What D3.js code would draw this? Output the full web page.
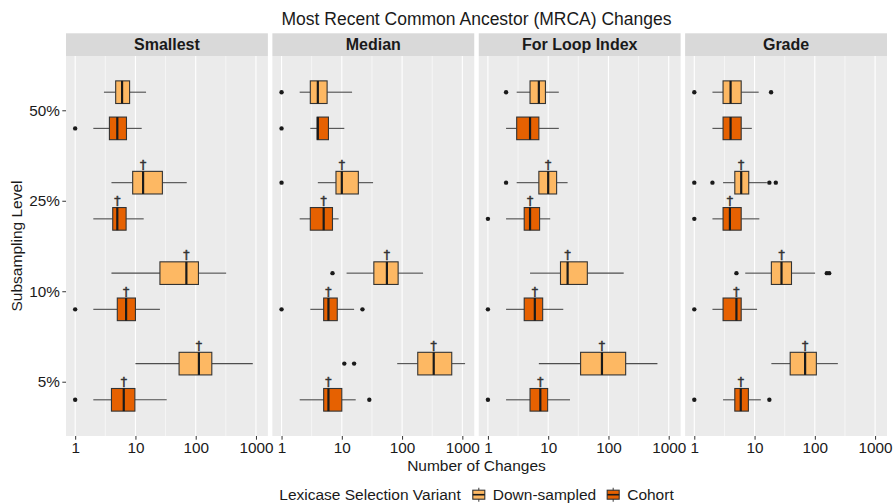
<!DOCTYPE html>
<html>
<head>
<meta charset="utf-8">
<script src="https://cdn.jsdelivr.net/npm/d3@7"></script>
<style>
    body { margin: 0; background: #fff }
    svg { font-family: 'Liberation Sans', Arial, sans-serif }
</style>
</head>
<body>
<svg id="chart" width="893" height="503"></svg>
<script>

const title = 'Most Recent Common Ancestor (MRCA) Changes'
const panels = ['Smallest', 'Median', 'For Loop Index', 'Grade']
const levels = ['50%', '25%', '10%', '5%']
const variants = ['Down-sampled', 'Cohort']
const fills = ['#FDB863', '#E66101']
const xTicks = [1, 10, 100, 1000]

// levels that carry a significance dagger
const daggerLevels = ['25%', '10%', '5%']

// [level, variant, lower whisker, q1, median, q3, upper whisker, outliers]
const smallest = [
    ['50%', 'Down-sampled', 3, 4.7, 6, 8, 15, []],
    ['50%', 'Cohort', 2, 3.7, 5, 7.1, 12.7, [1]],
    ['25%', 'Down-sampled', 4, 9, 13.4, 28, 71, []],
    ['25%', 'Cohort', 2, 4.2, 5, 7, 13.7, []],
    ['10%', 'Down-sampled', 4, 25.5, 70, 111, 320, []],
    ['10%', 'Cohort', 2, 5, 7, 10, 25.5, [1]],
    ['5%', 'Down-sampled', 10, 53, 113, 185, 885, []],
    ['5%', 'Cohort', 2, 4, 6.4, 9.8, 33, [1]]
]

const median = [
    ['50%', 'Down-sampled', 2, 3, 4, 5.7, 14.8, [1]],
    ['50%', 'Cohort', 3, 3.9, 4, 6, 11, [1]],
    ['25%', 'Down-sampled', 4, 8, 10, 18.8, 33, [1]],
    ['25%', 'Cohort', 2, 3, 5, 7, 8.85, []],
    ['10%', 'Down-sampled', 12, 34, 56, 86, 223, [7]],
    ['10%', 'Cohort', 3, 5, 6, 8.4, 16, [1, 22]],
    ['5%', 'Down-sampled', 83, 182, 335, 667, 1110, [11, 16]],
    ['5%', 'Cohort', 2, 5, 6, 10, 17, [28.6]]
]

const forLoop = [
    ['50%', 'Down-sampled', 3, 5, 7, 9, 15, [2]],
    ['50%', 'Cohort', 2, 3, 5, 7, 15, []],
    ['25%', 'Down-sampled', 3, 7, 10, 13.8, 21, [2]],
    ['25%', 'Cohort', 2, 4, 5, 7.2, 10.8, [1]],
    ['10%', 'Down-sampled', 5, 16, 21, 44.6, 179, []],
    ['10%', 'Cohort', 2, 4, 6, 8.1, 17.8, [1]],
    ['5%', 'Down-sampled', 7, 34.5, 78, 193, 650, []],
    ['5%', 'Cohort', 2, 5, 7.4, 9.8, 23, [1]]
]

const grade = [
    ['50%', 'Down-sampled', 2, 3, 4, 6, 11.7, [1, 18.8]],
    ['50%', 'Cohort', 2, 3, 4, 6, 9, []],
    ['25%', 'Down-sampled', 3, 4.7, 6, 8, 16, [1, 2, 17.6, 22.5]],
    ['25%', 'Cohort', 2, 3, 3.9, 6, 12, [1]],
    ['10%', 'Down-sampled', 7, 19, 28, 41, 101, [5, 158, 173]],
    ['10%', 'Cohort', 2, 3, 5, 6, 11, [1]],
    ['5%', 'Down-sampled', 19, 39, 69, 106, 241, []],
    ['5%', 'Cohort', 3, 4.7, 5.9, 7.9, 12.7, [1, 17.6]]
]

const panelStats = [smallest, median, forLoop, grade]


const plot = {left: 66, right: 887, top: 56, bottom: 436, gap: 4.5, strip: 22.7}
const panelW = (plot.right - plot.left - plot.gap * (panels.length - 1)) / panels.length

const toBox = r => ({
    level: r[0], variant: r[1],
    lo: r[2], q1: r[3], med: r[4], q3: r[5], hi: r[6], out: r[7]
})

// shared log x scale, expanded 5% like ggplot
const allVals = panelStats.flat().flatMap(r => [r[2], r[6], ...r[7]])
const [vMin, vMax] = d3.extent(allVals).map(Math.log10)
const pad = (vMax - vMin) * 0.05
const x = d3.scaleLog()
    .domain([10 ** (vMin - pad), 10 ** (vMax + pad)])
    .range([0, panelW])

const y = d3.scalePoint()
    .domain(levels)
    .range([plot.top, plot.bottom])
    .padding(0.6)

const step = y.step()
const dodge = v => (variants.indexOf(v) === 0 ? -1 : 1) * step * 0.2
const boxH = step * 0.25

const minorTicks = [-1, 0, 1, 2, 3].map(k => 10 ** (k + 0.5))
    .filter(v => v > x.domain()[0] && v < x.domain()[1])


const svg = d3.select('#chart')

svg.append('text')
    .attr('x', (plot.left + plot.right) / 2)
    .attr('y', 25)
    .attr('text-anchor', 'middle')
    .style('font-size', '17.5px')
    .style('fill', '#1a1a1a')
    .text(title)


const drawPanel = (g, name, rows) => {
    g.append('rect')
        .attr('y', plot.top - plot.strip)
        .attr('width', panelW)
        .attr('height', plot.strip)
        .attr('fill', '#D9D9D9')

    g.append('text')
        .attr('x', panelW / 2)
        .attr('y', plot.top - 6)
        .attr('text-anchor', 'middle')
        .style('font-size', '16px')
        .style('font-weight', 'bold')
        .style('fill', '#1a1a1a')
        .text(name)

    g.append('rect')
        .attr('y', plot.top)
        .attr('width', panelW)
        .attr('height', plot.bottom - plot.top)
        .attr('fill', '#EBEBEB')

    g.selectAll('.minor')
        .data(minorTicks)
        .join('line')
        .attr('x1', x).attr('x2', x)
        .attr('y1', plot.top).attr('y2', plot.bottom)
        .attr('stroke', '#fff')
        .attr('stroke-width', 0.55)

    g.selectAll('.major')
        .data(xTicks)
        .join('line')
        .attr('x1', x).attr('x2', x)
        .attr('y1', plot.top).attr('y2', plot.bottom)
        .attr('stroke', '#fff')
        .attr('stroke-width', 1.1)

    const boxes = rows.map(toBox)
    const bg = g.selectAll('.box')
        .data(boxes)
        .join('g')
        .attr('transform', d => `translate(0,${y(d.level) + dodge(d.variant)})`)

    bg.append('line')
        .attr('x1', d => x(d.lo)).attr('x2', d => x(d.q1))
        .attr('stroke', '#4d4d4d').attr('stroke-width', 1.1)
    bg.append('line')
        .attr('x1', d => x(d.q3)).attr('x2', d => x(d.hi))
        .attr('stroke', '#4d4d4d').attr('stroke-width', 1.1)

    bg.append('rect')
        .attr('x', d => x(d.q1))
        .attr('y', -boxH / 2)
        .attr('width', d => x(d.q3) - x(d.q1))
        .attr('height', boxH)
        .attr('fill', d => fills[variants.indexOf(d.variant)])
        .attr('stroke', '#333')
        .attr('stroke-width', 1.1)

    bg.append('line')
        .attr('x1', d => x(d.med)).attr('x2', d => x(d.med))
        .attr('y1', -boxH / 2).attr('y2', boxH / 2)
        .attr('stroke', '#1a1a1a').attr('stroke-width', 2.2)

    bg.selectAll('circle')
        .data(d => d.out)
        .join('circle')
        .attr('cx', x)
        .attr('r', 2.2)
        .attr('fill', '#1a1a1a')

    // stroked so the glyph is drawn grey, not with colour fringes
    bg.filter(d => daggerLevels.includes(d.level))
        .append('text')
        .attr('x', d => x(d.med))
        .attr('y', -boxH / 2 - 2.5)
        .attr('text-anchor', 'middle')
        .style('font-family', 'DejaVu Sans, sans-serif')
        .style('font-size', '12.5px')
        .style('fill', '#333')
        .style('stroke', '#333')
        .style('stroke-width', 0.5)
        .text('\u2020')

    const xAxis = g.append('g')
        .attr('transform', `translate(0,${plot.bottom})`)
        .call(d3.axisBottom(x).tickValues(xTicks).tickFormat(d3.format('d'))
            .tickSize(3.7).tickPadding(2))
    xAxis.select('.domain').remove()
    xAxis.selectAll('line').attr('stroke', '#333')
    xAxis.selectAll('text')
        .style('font-size', '15.3px')
        .style('font-family', 'Liberation Sans, Arial, sans-serif')
        .attr('fill', '#1a1a1a')
}

panels.forEach((name, i) => {
    const g = svg.append('g')
        .attr('transform', `translate(${plot.left + i * (panelW + plot.gap)},0)`)
    drawPanel(g, name, panelStats[i])
})

const yAxis = svg.append('g')
    .attr('transform', `translate(${plot.left},0)`)
    .call(d3.axisLeft(y).tickSize(3.7).tickPadding(2.5))
yAxis.select('.domain').remove()
yAxis.selectAll('line').attr('stroke', '#333')
yAxis.selectAll('text')
    .style('font-size', '15.3px')
    .style('font-family', 'Liberation Sans, Arial, sans-serif')
    .attr('fill', '#1a1a1a')

svg.append('text')
    .attr('transform', `translate(22,${(plot.top + plot.bottom) / 2}) rotate(-90)`)
    .attr('text-anchor', 'middle')
    .style('font-size', '15.5px')
    .style('fill', '#1a1a1a')
    .text('Subsampling Level')

svg.append('text')
    .attr('x', (plot.left + plot.right) / 2)
    .attr('y', 471)
    .attr('text-anchor', 'middle')
    .style('font-size', '15.5px')
    .style('fill', '#1a1a1a')
    .text('Number of Changes')


// legend, laid out left to right then centred
const legend = svg.append('g')
const ly = 494.7
let cx = 0
const lt = legend.append('text')
    .attr('x', cx).attr('y', ly).attr('dy', '0.35em')
    .style('font-size', '15.5px').style('fill', '#1a1a1a')
    .text('Lexicase Selection Variant')
cx += lt.node().getComputedTextLength() + 10

variants.forEach((v, i) => {
    const k = legend.append('g').attr('transform', `translate(${cx},${ly})`)
    k.append('line')
        .attr('x1', 8).attr('x2', 8).attr('y1', -7).attr('y2', 7)
        .attr('stroke', '#4d4d4d').attr('stroke-width', 1.1)
    k.append('rect')
        .attr('x', 2).attr('y', -4.5).attr('width', 12).attr('height', 9)
        .attr('fill', fills[i]).attr('stroke', '#333').attr('stroke-width', 1.1)
    k.append('line')
        .attr('x1', 2).attr('x2', 14).attr('y1', 0).attr('y2', 0)
        .attr('stroke', '#1a1a1a').attr('stroke-width', 1.6)
    cx += 22
    const t = legend.append('text')
        .attr('x', cx).attr('y', ly).attr('dy', '0.35em')
        .style('font-size', '15.5px').style('fill', '#1a1a1a')
        .text(v)
    cx += t.node().getComputedTextLength() + 9
})
cx -= 9
legend.attr('transform', `translate(${(plot.left + plot.right) / 2 - cx / 2},0)`)

</script>
</body>
</html>
